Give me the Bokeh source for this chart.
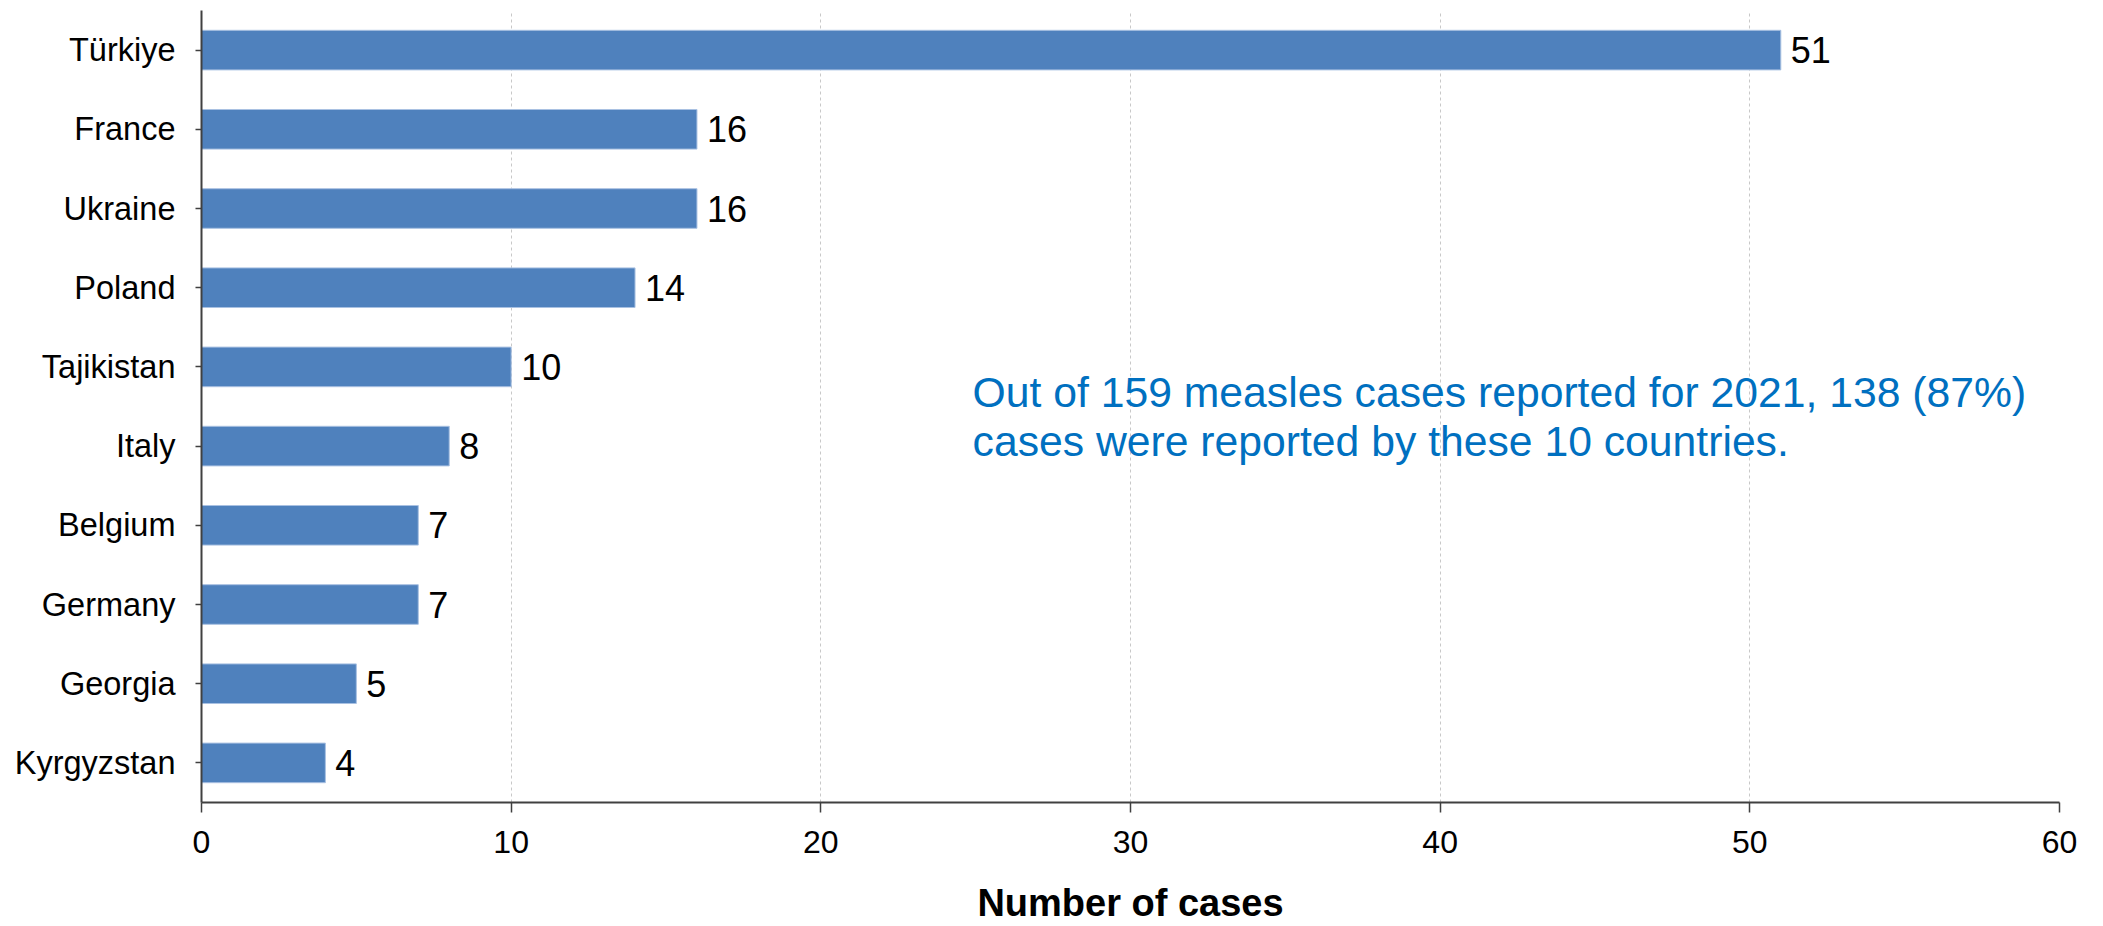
from bokeh.plotting import figure
from bokeh.models import FactorRange, Range1d, FixedTicker, Label, ColumnDataSource
from bokeh.core.properties import value
from bokeh.embed import file_html
from bokeh.resources import INLINE

countries = ["Türkiye", "France", "Ukraine", "Poland", "Tajikistan", "Italy",
             "Belgium", "Germany", "Georgia", "Kyrgyzstan"]
cases = [51, 16, 16, 14, 10, 8, 7, 7, 5, 4]
x_ticks = [0, 10, 20, 30, 40, 50, 60]
x_title = "Number of cases"
note_lines = ["Out of 159 measles cases reported for 2021, 138 (87%)",
              "cases were reported by these 10 countries."]

FONT = "Liberation Sans"
BAR = "#4F81BD"
NOTE = "#0070C0"

order = list(reversed(countries))
src = ColumnDataSource(dict(country=countries, cases=cases,
                            label=[str(v) for v in cases]))

p = figure(width=2103, height=926,
           y_range=FactorRange(*order), x_range=Range1d(0, 60),
           output_backend="svg", toolbar_location=None,
           min_border_left=201, min_border_right=44,
           min_border_top=10, min_border_bottom=124)
p.outline_line_color = None
p.background_fill_color = "white"
p.border_fill_color = "white"

p.hbar(y="country", right="cases", left=0, height=0.5, source=src,
       fill_color=BAR, line_color="#A9C1E2", line_width=1)

p.text(x="cases", y="country", text="label", source=src,
       x_offset=10, text_baseline="middle", text_align="left",
       text_font=value(FONT), text_font_size="36px", text_color="black")

# x axis
p.xaxis.ticker = FixedTicker(ticks=x_ticks)
p.xaxis.axis_line_color = "#404040"
p.xaxis.axis_line_width = 2
p.xaxis.major_tick_line_color = "#404040"
p.xaxis.major_tick_line_width = 1.5
p.xaxis.major_tick_out = 10
p.xaxis.major_tick_in = 0
p.xaxis.minor_tick_line_color = None
p.xaxis.major_label_standoff = 18
p.xaxis.major_label_text_font = FONT
p.xaxis.major_label_text_font_size = "32px"
p.xaxis.major_label_text_color = "black"
p.xaxis.axis_label = x_title
p.xaxis.axis_label_standoff = 26
p.xaxis.axis_label_text_font = FONT
p.xaxis.axis_label_text_font_style = "bold"
p.xaxis.axis_label_text_font_size = "38px"
p.xaxis.axis_label_text_color = "black"

# y axis
p.yaxis.axis_line_color = "#404040"
p.yaxis.axis_line_width = 2
p.yaxis.major_tick_line_color = "#404040"
p.yaxis.major_tick_line_width = 1.5
p.yaxis.major_tick_out = 6
p.yaxis.major_tick_in = 0
p.yaxis.major_label_standoff = 20
p.yaxis.major_label_text_font = FONT
p.yaxis.major_label_text_font_size = "32.5px"
p.yaxis.major_label_text_color = "black"

# grid
p.ygrid.grid_line_color = None
p.xgrid.ticker = FixedTicker(ticks=x_ticks[1:])
p.xgrid.grid_line_color = "#C8C8C8"
p.xgrid.grid_line_width = 1
p.xgrid.grid_line_dash = "3 3"

# note
note_y = [5.18, 4.56]
for line, yy in zip(note_lines, note_y):
    p.add_layout(Label(x=24.9, y=yy, x_units="data", y_units="data",
                       text=line, text_align="left", text_baseline="middle",
                       text_font=FONT, text_font_size="42.7px",
                       text_color=NOTE))

open("out.html", "w").write(file_html(p, INLINE))
